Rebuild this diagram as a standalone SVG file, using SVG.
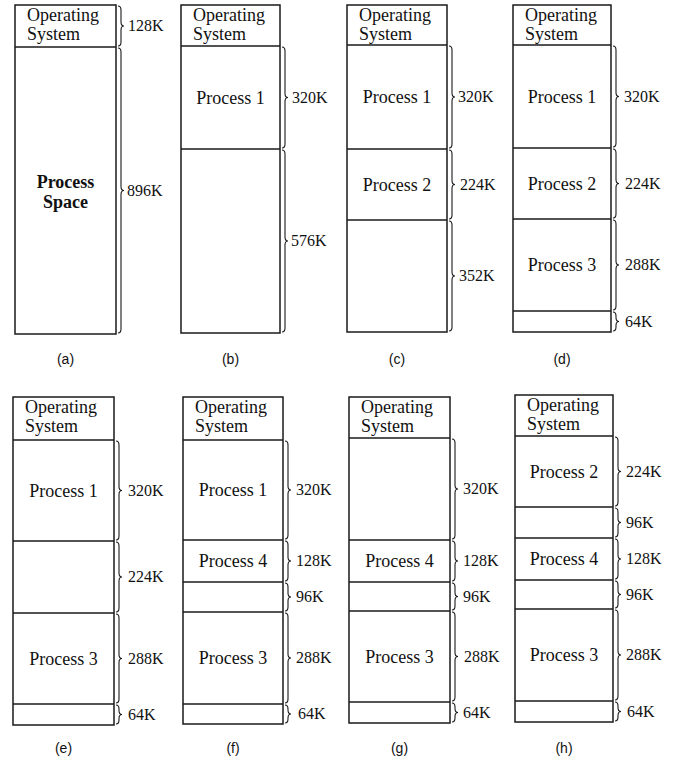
<svg xmlns="http://www.w3.org/2000/svg" width="678" height="761" viewBox="0 0 678 761">
<style>
.box{fill:#fff;stroke:#1a1a1a;stroke-width:1.5}
.div{stroke:#1a1a1a;stroke-width:1.4}
.t{font-family:"Liberation Serif","Times New Roman",serif;font-size:18px;fill:#111}
.c{text-anchor:middle}
.b{font-weight:bold}
.lab{font-family:"Liberation Serif","Times New Roman",serif;font-size:16px;fill:#111}
.cap{font-family:"Liberation Sans","DejaVu Sans",sans-serif;font-size:14px;fill:#111;text-anchor:middle}
.br{fill:none;stroke:#1a1a1a;stroke-width:1.1}
</style>

<g id="a">
<rect class="box" x="15" y="5" width="101" height="329"/>
<line class="div" x1="15" y1="47" x2="116" y2="47"/>
<text class="t" x="27" y="21">Operating</text><text class="t" x="27" y="39.5">System</text>
<text class="t c b" x="65.5" y="188">Process</text><text class="t c b" x="65.5" y="208">Space</text>
<text class="cap" x="65.5" y="364">(a)</text>
</g>

<g id="b">
<rect class="box" x="181" y="5" width="99" height="328"/>
<line class="div" x1="181" y1="46" x2="280" y2="46"/>
<line class="div" x1="181" y1="149" x2="280" y2="149"/>
<text class="t" x="193" y="21">Operating</text><text class="t" x="193" y="39.5">System</text>
<text class="t c" x="230.5" y="103.5">Process 1</text>
<text class="cap" x="230.5" y="364">(b)</text>
</g>

<g id="c">
<rect class="box" x="347" y="5" width="100" height="327"/>
<line class="div" x1="347" y1="45" x2="447" y2="45"/>
<line class="div" x1="347" y1="149" x2="447" y2="149"/>
<line class="div" x1="347" y1="220" x2="447" y2="220"/>
<text class="t" x="359" y="21">Operating</text><text class="t" x="359" y="39.5">System</text>
<text class="t c" x="397" y="103">Process 1</text>
<text class="t c" x="397" y="190.5">Process 2</text>
<text class="cap" x="397" y="364">(c)</text>
</g>

<g id="d">
<rect class="box" x="513" y="5" width="98" height="327"/>
<line class="div" x1="513" y1="45" x2="611" y2="45"/>
<line class="div" x1="513" y1="148" x2="611" y2="148"/>
<line class="div" x1="513" y1="219" x2="611" y2="219"/>
<line class="div" x1="513" y1="311" x2="611" y2="311"/>
<text class="t" x="525" y="21">Operating</text><text class="t" x="525" y="39.5">System</text>
<text class="t c" x="562" y="102.5">Process 1</text>
<text class="t c" x="562" y="189.5">Process 2</text>
<text class="t c" x="562" y="271">Process 3</text>
<text class="cap" x="562" y="364">(d)</text>
</g>

<g id="e">
<rect class="box" x="13" y="397" width="101" height="328"/>
<line class="div" x1="13" y1="440" x2="114" y2="440"/>
<line class="div" x1="13" y1="541" x2="114" y2="541"/>
<line class="div" x1="13" y1="613" x2="114" y2="613"/>
<line class="div" x1="13" y1="704" x2="114" y2="704"/>
<text class="t" x="25" y="413">Operating</text><text class="t" x="25" y="432">System</text>
<text class="t c" x="63.5" y="496.5">Process 1</text>
<text class="t c" x="63.5" y="664.5">Process 3</text>
<text class="cap" x="63.5" y="753">(e)</text>
</g>

<g id="f">
<rect class="box" x="183" y="397" width="100" height="327"/>
<line class="div" x1="183" y1="440" x2="283" y2="440"/>
<line class="div" x1="183" y1="540" x2="283" y2="540"/>
<line class="div" x1="183" y1="582" x2="283" y2="582"/>
<line class="div" x1="183" y1="612" x2="283" y2="612"/>
<line class="div" x1="183" y1="704" x2="283" y2="704"/>
<text class="t" x="195" y="413">Operating</text><text class="t" x="195" y="432">System</text>
<text class="t c" x="233" y="496">Process 1</text>
<text class="t c" x="233" y="567">Process 4</text>
<text class="t c" x="233" y="664">Process 3</text>
<text class="cap" x="233" y="753">(f)</text>
</g>

<g id="g">
<rect class="box" x="349" y="397" width="101" height="326"/>
<line class="div" x1="349" y1="438" x2="450" y2="438"/>
<line class="div" x1="349" y1="540" x2="450" y2="540"/>
<line class="div" x1="349" y1="582" x2="450" y2="582"/>
<line class="div" x1="349" y1="611" x2="450" y2="611"/>
<line class="div" x1="349" y1="702" x2="450" y2="702"/>
<text class="t" x="361" y="413">Operating</text><text class="t" x="361" y="432">System</text>
<text class="t c" x="399.5" y="567">Process 4</text>
<text class="t c" x="399.5" y="662.5">Process 3</text>
<text class="cap" x="399.5" y="753">(g)</text>
</g>

<g id="h">
<rect class="box" x="515" y="395" width="98" height="327"/>
<line class="div" x1="515" y1="436" x2="613" y2="436"/>
<line class="div" x1="515" y1="507" x2="613" y2="507"/>
<line class="div" x1="515" y1="538" x2="613" y2="538"/>
<line class="div" x1="515" y1="580" x2="613" y2="580"/>
<line class="div" x1="515" y1="609" x2="613" y2="609"/>
<line class="div" x1="515" y1="701" x2="613" y2="701"/>
<text class="t" x="527" y="411">Operating</text><text class="t" x="527" y="430">System</text>
<text class="t c" x="564" y="477.5">Process 2</text>
<text class="t c" x="564" y="565">Process 4</text>
<text class="t c" x="564" y="661">Process 3</text>
<text class="cap" x="564" y="753">(h)</text>
</g>

<g id="braces">
<path class="br" d="M118 6 q3 0 3 4 V22 q0 4 3 4 q-3 0 -3 4 V42 q0 4 -3 4"/>
<path class="br" d="M118 48 q3 0 3 4 V186.5 q0 4 3 4 q-3 0 -3 4 V329 q0 4 -3 4"/>
<path class="br" d="M282 47 q3 0 3 4 V93.5 q0 4 3 4 q-3 0 -3 4 V144 q0 4 -3 4"/>
<path class="br" d="M282 150 q3 0 3 4 V237 q0 4 3 4 q-3 0 -3 4 V328 q0 4 -3 4"/>
<path class="br" d="M449 46 q3 0 3 4 V93 q0 4 3 4 q-3 0 -3 4 V144 q0 4 -3 4"/>
<path class="br" d="M449 150 q3 0 3 4 V180.5 q0 4 3 4 q-3 0 -3 4 V215 q0 4 -3 4"/>
<path class="br" d="M449 221 q3 0 3 4 V272 q0 4 3 4 q-3 0 -3 4 V327 q0 4 -3 4"/>
<path class="br" d="M613 46 q3 0 3 4 V92.5 q0 4 3 4 q-3 0 -3 4 V143 q0 4 -3 4"/>
<path class="br" d="M613 149 q3 0 3 4 V179.5 q0 4 3 4 q-3 0 -3 4 V214 q0 4 -3 4"/>
<path class="br" d="M613 220 q3 0 3 4 V261 q0 4 3 4 q-3 0 -3 4 V306 q0 4 -3 4"/>
<path class="br" d="M613 312 q3 0 3 4 V317.5 q0 4 3 4 q-3 0 -3 4 V327 q0 4 -3 4"/>
<path class="br" d="M116 441 q3 0 3 4 V486.5 q0 4 3 4 q-3 0 -3 4 V536 q0 4 -3 4"/>
<path class="br" d="M116 542 q3 0 3 4 V573 q0 4 3 4 q-3 0 -3 4 V608 q0 4 -3 4"/>
<path class="br" d="M116 614 q3 0 3 4 V654.5 q0 4 3 4 q-3 0 -3 4 V699 q0 4 -3 4"/>
<path class="br" d="M116 705 q3 0 3 4 V710.5 q0 4 3 4 q-3 0 -3 4 V720 q0 4 -3 4"/>
<path class="br" d="M285 441 q3 0 3 4 V486 q0 4 3 4 q-3 0 -3 4 V535 q0 4 -3 4"/>
<path class="br" d="M285 541 q3 0 3 4 V557 q0 4 3 4 q-3 0 -3 4 V577 q0 4 -3 4"/>
<path class="br" d="M285 583 q3 0 3 4 V593 q0 4 3 4 q-3 0 -3 4 V607 q0 4 -3 4"/>
<path class="br" d="M285 613 q3 0 3 4 V654 q0 4 3 4 q-3 0 -3 4 V699 q0 4 -3 4"/>
<path class="br" d="M285 705 q3 0 3 4 V710 q0 4 3 4 q-3 0 -3 4 V719 q0 4 -3 4"/>
<path class="br" d="M452 439 q3 0 3 4 V485 q0 4 3 4 q-3 0 -3 4 V535 q0 4 -3 4"/>
<path class="br" d="M452 541 q3 0 3 4 V557 q0 4 3 4 q-3 0 -3 4 V577 q0 4 -3 4"/>
<path class="br" d="M452 583 q3 0 3 4 V592.5 q0 4 3 4 q-3 0 -3 4 V606 q0 4 -3 4"/>
<path class="br" d="M452 612 q3 0 3 4 V652.5 q0 4 3 4 q-3 0 -3 4 V697 q0 4 -3 4"/>
<path class="br" d="M452 703 q3 0 3 4 V708.5 q0 4 3 4 q-3 0 -3 4 V718 q0 4 -3 4"/>
<path class="br" d="M615 437 q3 0 3 4 V467.5 q0 4 3 4 q-3 0 -3 4 V502 q0 4 -3 4"/>
<path class="br" d="M615 508 q3 0 3 4 V518.5 q0 4 3 4 q-3 0 -3 4 V533 q0 4 -3 4"/>
<path class="br" d="M615 539 q3 0 3 4 V555 q0 4 3 4 q-3 0 -3 4 V575 q0 4 -3 4"/>
<path class="br" d="M615 581 q3 0 3 4 V590.5 q0 4 3 4 q-3 0 -3 4 V604 q0 4 -3 4"/>
<path class="br" d="M615 610 q3 0 3 4 V651 q0 4 3 4 q-3 0 -3 4 V696 q0 4 -3 4"/>
<path class="br" d="M615 702 q3 0 3 4 V707.5 q0 4 3 4 q-3 0 -3 4 V717 q0 4 -3 4"/>
</g>

<g id="labels">
<text class="lab" x="128" y="31">128K</text>
<text class="lab" x="127" y="195.5">896K</text>
<text class="lab" x="292" y="102.5">320K</text>
<text class="lab" x="291" y="246">576K</text>
<text class="lab" x="458" y="102">320K</text>
<text class="lab" x="460" y="189.5">224K</text>
<text class="lab" x="459" y="281">352K</text>
<text class="lab" x="624" y="101.5">320K</text>
<text class="lab" x="625" y="188.5">224K</text>
<text class="lab" x="625" y="270">288K</text>
<text class="lab" x="625" y="326.5">64K</text>
<text class="lab" x="128" y="495.5">320K</text>
<text class="lab" x="128" y="582">224K</text>
<text class="lab" x="128" y="663.5">288K</text>
<text class="lab" x="128" y="719.5">64K</text>
<text class="lab" x="296" y="495">320K</text>
<text class="lab" x="296" y="566">128K</text>
<text class="lab" x="296" y="602">96K</text>
<text class="lab" x="296" y="663">288K</text>
<text class="lab" x="298" y="719">64K</text>
<text class="lab" x="463" y="494">320K</text>
<text class="lab" x="463" y="566">128K</text>
<text class="lab" x="463" y="601.5">96K</text>
<text class="lab" x="464" y="661.5">288K</text>
<text class="lab" x="463" y="717.5">64K</text>
<text class="lab" x="626" y="476.5">224K</text>
<text class="lab" x="626" y="527.5">96K</text>
<text class="lab" x="626" y="564">128K</text>
<text class="lab" x="626" y="599.5">96K</text>
<text class="lab" x="626" y="660">288K</text>
<text class="lab" x="627" y="716.5">64K</text>
</g>
</svg>
